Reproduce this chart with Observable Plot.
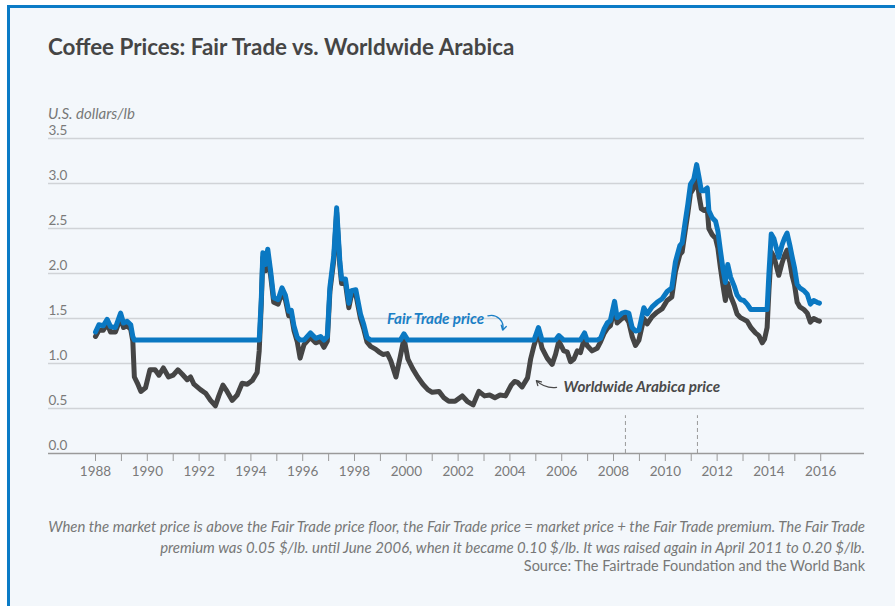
<!DOCTYPE html>
<html>
<head>
<meta charset="utf-8">
<script src="https://cdn.jsdelivr.net/npm/d3@7"></script>
<script src="https://cdn.jsdelivr.net/npm/@observablehq/plot@0.6"></script>
<style>
  html, body { margin: 0; padding: 0; background: #ffffff; width: 895px; height: 606px; overflow: hidden; }
  #frame { position: absolute; left: 7px; top: 5px; width: 1000px; height: 700px;
           border-left: 3px solid #0b7bc6; border-top: 3px solid #0b7bc6; background: #f3f7fb; }
  .abs { position: absolute; white-space: nowrap; font-family: Lato, "Open Sans", sans-serif; line-height: 1.2; }
  #title { left: 48px; top: 34px; font-size: 22.4px; font-weight: 700; color: #454545; }
  #ylabel { left: 48px; top: 104px; font-size: 15px; font-style: italic; color: #777; }
  #chart { position: absolute; left: 0; top: 120px; }
  .cap { right: 30px; font-size: 14.95px; font-style: italic; color: #777; text-align: right; }
  #cap1 { top: 518px; } #cap2 { top: 539px; }
  #src { top: 557px; font-style: normal; font-size: 14.5px; }
</style>
</head>
<body>
<div id="frame"></div>
<div class="abs" id="title">Coffee Prices: Fair Trade vs. Worldwide Arabica</div>
<div class="abs" id="ylabel">U.S. dollars/lb</div>
<div id="chart"></div>
<div class="abs cap" id="cap1">When the market price is above the Fair Trade price floor, the Fair Trade price = market price + the Fair Trade premium. The Fair Trade</div>
<div class="abs cap" id="cap2">premium was 0.05 $/lb. until June 2006, when it became 0.10 $/lb. It was raised again in April 2011 to 0.20 $/lb.</div>
<div class="abs cap" id="src">Source: The Fairtrade Foundation and the World Bank</div>
<script>
// Dates as decimal years
const dates = [
1988.00,1988.13,1988.30,1988.45,1988.58,1988.77,1988.97,1989.08,1989.22,1989.36,1989.44,1989.50,1989.62,1989.75,1989.93,
1990.10,1990.30,1990.45,1990.62,1990.82,1991.00,1991.18,1991.35,1991.54,1991.67,1991.80,1992.05,1992.25,1992.44,1992.63,
1992.76,1992.92,1993.08,1993.28,1993.47,1993.66,1993.86,1994.05,1994.24,1994.32,1994.40,1994.46,1994.56,1994.65,1994.76,
1994.88,1995.05,1995.20,1995.33,1995.46,1995.56,1995.66,1995.79,1995.90,1996.05,1996.30,1996.50,1996.69,1996.82,1996.95,
1997.05,1997.20,1997.31,1997.43,1997.50,1997.65,1997.78,1997.88,1998.05,1998.23,1998.36,1998.48,1998.62,1998.81,1998.94,
1999.10,1999.27,1999.40,1999.60,1999.77,1999.91,2000.06,2000.25,2000.44,2000.64,2000.83,2001.00,2001.26,2001.45,2001.64,
2001.88,2002.16,2002.35,2002.58,2002.80,2003.02,2003.22,2003.42,2003.62,2003.83,2004.05,2004.18,2004.30,2004.47,2004.68,
2004.80,2004.93,2005.10,2005.24,2005.44,2005.63,2005.76,2005.89,2006.08,2006.21,2006.34,2006.47,2006.60,2006.72,2006.88,
2006.98,2007.17,2007.37,2007.50,2007.63,2007.76,2007.88,2008.04,2008.14,2008.33,2008.46,2008.59,2008.72,2008.85,2008.98,
2009.17,2009.30,2009.49,2009.68,2009.88,2010.07,2010.25,2010.39,2010.56,2010.65,2010.76,2010.87,2010.97,2011.10,2011.21,
2011.30,2011.39,2011.49,2011.62,2011.68,2011.81,2011.94,2012.03,2012.13,2012.23,2012.32,2012.41,2012.52,2012.66,2012.77,
2012.90,2013.03,2013.16,2013.30,2013.48,2013.61,2013.74,2013.83,2013.93,2014.00,2014.09,2014.19,2014.29,2014.38,2014.51,
2014.60,2014.70,2014.81,2014.90,2014.99,2015.09,2015.19,2015.35,2015.48,2015.60,2015.73,2015.86,2015.95
];
// Worldwide Arabica price, U.S. dollars/lb
const arabica = [
1.30,1.37,1.37,1.44,1.35,1.35,1.51,1.40,1.42,1.38,1.25,0.85,0.78,0.69,0.73,
0.93,0.93,0.87,0.95,0.85,0.87,0.93,0.88,0.82,0.85,0.77,0.71,0.67,0.59,0.53,
0.64,0.76,0.69,0.59,0.65,0.78,0.77,0.81,0.90,1.14,1.66,2.18,2.03,2.21,1.98,
1.68,1.66,1.79,1.71,1.53,1.54,1.37,1.24,1.06,1.21,1.29,1.23,1.25,1.18,1.25,
1.80,2.15,2.68,2.10,1.89,1.89,1.62,1.76,1.77,1.50,1.38,1.24,1.19,1.16,1.13,
1.10,1.11,1.03,0.85,1.08,1.28,1.05,0.94,0.85,0.77,0.71,0.68,0.69,0.62,0.58,
0.58,0.64,0.58,0.54,0.69,0.64,0.65,0.62,0.65,0.64,0.76,0.80,0.79,0.74,0.84,
1.05,1.20,1.35,1.17,1.06,0.99,1.10,1.25,1.14,1.13,1.02,1.05,1.14,1.12,1.28,
1.20,1.14,1.17,1.24,1.33,1.39,1.42,1.62,1.45,1.50,1.52,1.46,1.30,1.20,1.26,
1.50,1.44,1.52,1.57,1.61,1.70,1.74,2.02,2.21,2.24,2.46,2.67,2.89,2.95,3.11,
2.87,2.72,2.70,2.72,2.50,2.43,2.39,2.28,2.06,1.86,1.70,1.89,1.75,1.65,1.55,
1.51,1.49,1.47,1.40,1.34,1.31,1.23,1.27,1.40,1.81,2.24,2.19,2.08,1.98,2.12,
2.20,2.26,2.12,1.97,1.87,1.68,1.63,1.60,1.56,1.46,1.50,1.48,1.47
];
// Fair Trade price, U.S. dollars/lb
const fairTrade = [
1.35,1.43,1.42,1.49,1.41,1.40,1.56,1.45,1.47,1.43,1.30,1.26,1.26,1.26,1.26,
1.26,1.26,1.26,1.26,1.26,1.26,1.26,1.26,1.26,1.26,1.26,1.26,1.26,1.26,1.26,
1.26,1.26,1.26,1.26,1.26,1.26,1.26,1.26,1.26,1.26,1.71,2.23,2.10,2.27,2.03,
1.73,1.71,1.84,1.76,1.58,1.59,1.42,1.29,1.26,1.26,1.34,1.28,1.30,1.26,1.30,
1.85,2.20,2.73,2.15,1.94,1.94,1.67,1.81,1.82,1.55,1.43,1.29,1.26,1.26,1.26,
1.26,1.26,1.26,1.26,1.26,1.33,1.26,1.26,1.26,1.26,1.26,1.26,1.26,1.26,1.26,
1.26,1.26,1.26,1.26,1.26,1.26,1.26,1.26,1.26,1.26,1.26,1.26,1.26,1.26,1.26,
1.26,1.26,1.40,1.26,1.26,1.26,1.26,1.31,1.26,1.26,1.26,1.26,1.26,1.26,1.34,
1.26,1.26,1.26,1.28,1.38,1.45,1.48,1.69,1.51,1.56,1.57,1.56,1.40,1.36,1.37,
1.62,1.55,1.63,1.68,1.72,1.80,1.84,2.13,2.31,2.34,2.56,2.77,2.99,3.05,3.21,
3.07,2.92,2.92,2.95,2.70,2.62,2.58,2.47,2.25,2.04,1.90,2.10,1.96,1.86,1.76,
1.71,1.70,1.66,1.60,1.60,1.60,1.60,1.60,1.60,2.00,2.44,2.39,2.28,2.18,2.32,
2.39,2.45,2.31,2.18,2.06,1.88,1.84,1.81,1.77,1.66,1.70,1.68,1.67
];
const yTicks = [0, 0.5, 1, 1.5, 2, 2.5, 3, 3.5];
const xTicks = [1988,1989,1990,1991,1992,1993,1994,1995,1996,1997,1998,1999,2000,2001,2002,
                2003,2004,2005,2006,2007,2008,2009,2010,2011,2012,2013,2014,2015,2016];
const premiumChanges = [2008.46, 2011.24];
const labels = [
  {text: "Fair Trade price", x: 1999.25, y: 1.49, color: "#1b7fc6"},
  {text: "Worldwide Arabica price", x: 2006.07, y: 0.74, color: "#4a4a4a"}
];
const fairArrow = [{x1: 2003.15, y1: 1.53, x2: 2003.72, y2: 1.37}];
const worldArrow = [{x1: 2005.80, y1: 0.735, x2: 2005.02, y2: 0.81}];

const rows = dates.map((t, i) => ({t, a: arabica[i], f: fairTrade[i]}));

const chart = Plot.plot({
  width: 895,
  height: 368,
  marginLeft: 48,
  marginRight: 31,
  marginTop: 18,
  marginBottom: 35,
  style: {fontFamily: "Lato, sans-serif", fontSize: "13px", background: "transparent", color: "#777"},
  x: {domain: [1986.185, 2017.69], label: null},
  y: {domain: [0, 3.5], label: null, axis: null},
  marks: [
    Plot.gridY(yTicks.filter(d => d > 0), {stroke: "#d0d3d7", strokeOpacity: 1, strokeWidth: 1.7}),
    Plot.text(yTicks, {y: d => d, frameAnchor: "left", text: d => d.toFixed(1), textAnchor: "start", dy: -8, fill: "#7a7a7a", fontSize: 13.5}),
    Plot.axisX({ticks: xTicks, tickSize: 8, tickPadding: 5, tickFormat: d => d % 2 === 0 ? String(d) : "", stroke: "#9a9a9a", fill: "#7a7a7a", fontSize: 13.5, label: null}),
    Plot.ruleY([0], {stroke: "#9a9a9a", strokeWidth: 1.5}),
    Plot.ruleX(premiumChanges, {y1: 0, y2: 0.42, stroke: "#9a9a9a", strokeDasharray: "4,3", strokeWidth: 1}),
    Plot.line(rows, {x: "t", y: "a", stroke: "#454545", strokeWidth: 5, strokeLinejoin: "round", strokeLinecap: "round"}),
    Plot.line(rows, {x: "t", y: "f", stroke: "#0a78c2", strokeWidth: 5, strokeLinejoin: "round", strokeLinecap: "round"}),
    Plot.text(labels, {x: "x", y: "y", text: "text", fill: d => d.color, textAnchor: "start", fontSize: 15.2, fontWeight: 700, fontStyle: "italic"}),
    Plot.arrow(fairArrow, {x1: "x1", y1: "y1", x2: "x2", y2: "y2", stroke: "#1b7fc6", bend: 60, strokeWidth: 1.3, headLength: 6}),
    Plot.arrow(worldArrow, {x1: "x1", y1: "y1", x2: "x2", y2: "y2", stroke: "#4a4a4a", bend: 25, strokeWidth: 1.3, headLength: 6})
  ]
});
document.getElementById("chart").appendChild(chart);
</script>
</body>
</html>
